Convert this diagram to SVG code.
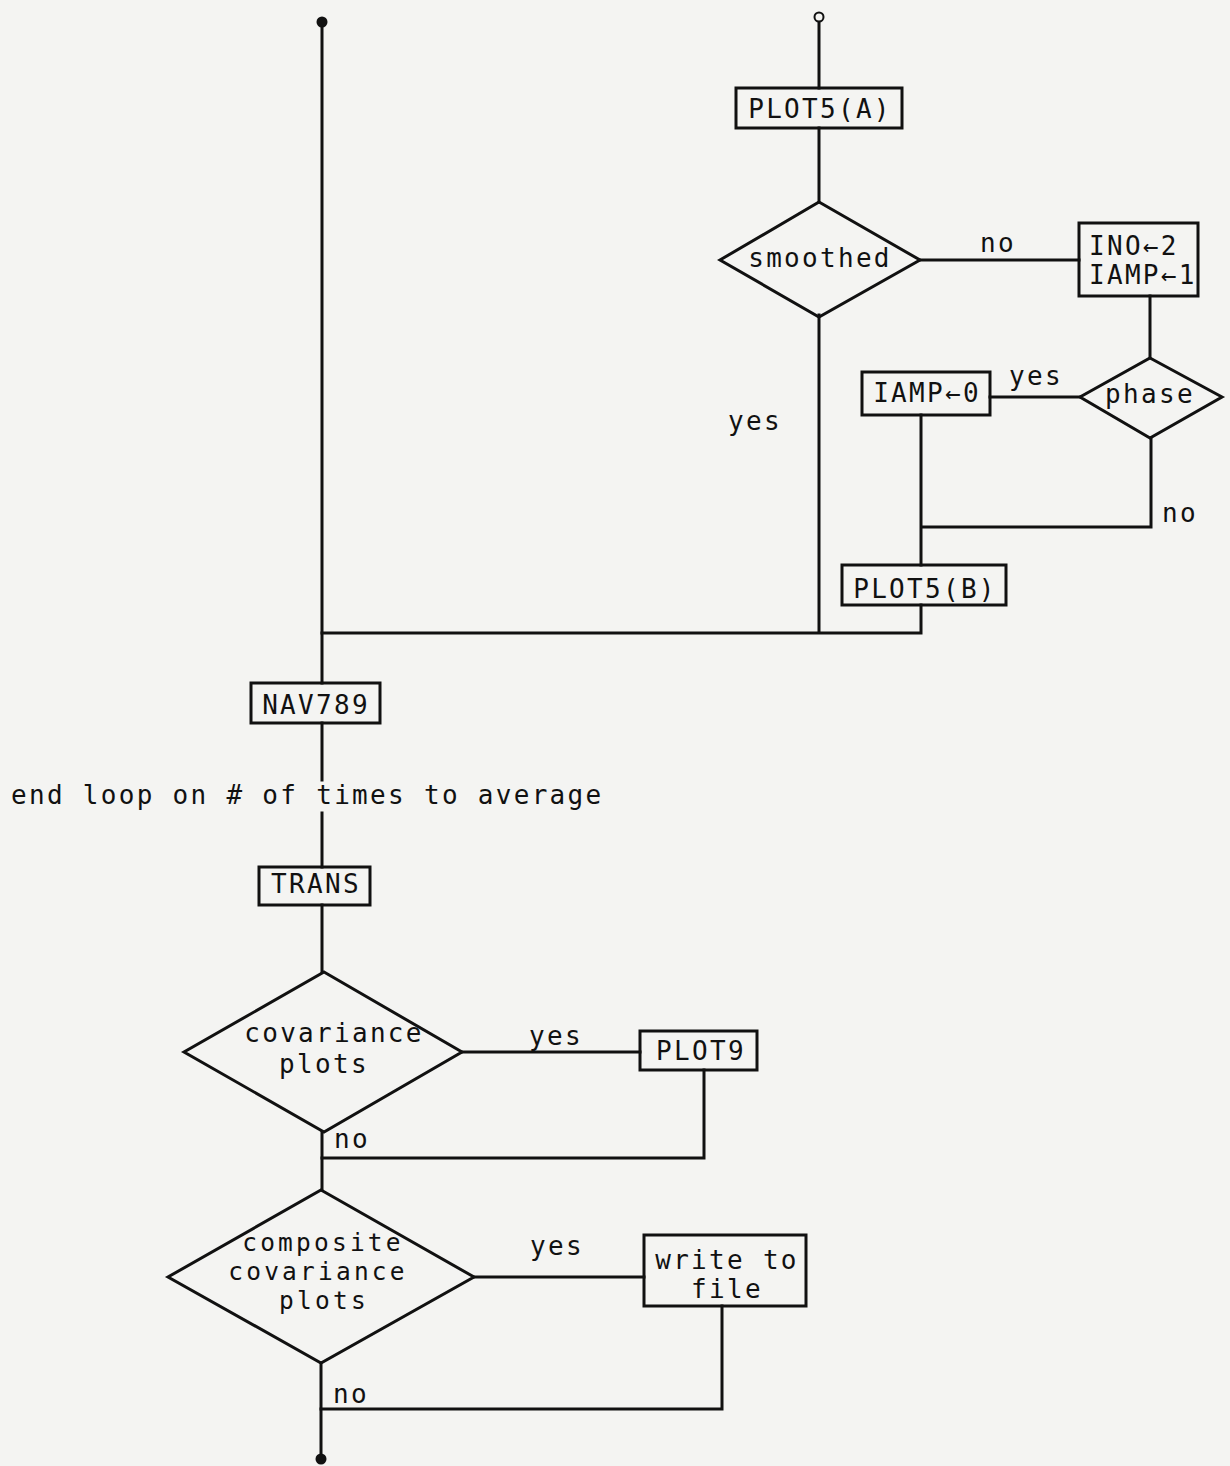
<svg xmlns="http://www.w3.org/2000/svg" width="1230" height="1466" viewBox="0 0 1230 1466">
<style>
.bg{fill:#f4f4f2}
.n{fill:none;stroke:#111;stroke-width:3}
.c{fill:none;stroke:#111;stroke-width:3;stroke-linecap:square}
text{font-family:"DejaVu Sans Mono","Liberation Mono",monospace;font-size:26px;fill:#111;letter-spacing:2.3px}
.m{text-anchor:middle}
.s{font-size:24.5px;letter-spacing:3.2px}
</style>
<rect class="bg" x="0" y="0" width="1230" height="1466"/>
<g id="connectors">
<path class="c" d="M322 22V683M322 723V780M322 813V867M322 905V972M322 1132V1190M321 1363V1458"/>
<path class="c" d="M819 22V88M819 128V202M920 260H1079M1150 296V358M1080 397H990M819 315V633M921 415V565M1151 438V527H921M921 605V633H322"/>
<path class="c" d="M462 1052H640M704 1070V1158H322M474 1277H644M722 1306V1409H321"/>
<circle cx="322" cy="22" r="5.5" fill="#111"/>
<circle cx="819" cy="17" r="4.5" fill="#f4f4f2" stroke="#111" stroke-width="2"/>
<circle cx="321" cy="1459" r="5.5" fill="#111"/>
<text class="m" x="998" y="252">no</text>
<text class="m" x="1036" y="385">yes</text>
<text class="m" x="755" y="430">yes</text>
<text x="1162" y="522">no</text>
<text x="11" y="804">end loop on # of times to average</text>
<text class="m" x="556" y="1045">yes</text>
<text x="334" y="1148">no</text>
<text class="m" x="557" y="1255">yes</text>
<text x="333" y="1403">no</text>
</g>
<g id="plot5a"><rect class="n" x="736" y="88" width="166" height="40"/><text class="m" x="820" y="118">PLOT5(A)</text></g>
<g id="smoothed"><path class="n" d="M819 202L920 260L819 317L720 260Z"/><text class="m" x="820" y="267">smoothed</text></g>
<g id="ino"><rect class="n" x="1079" y="223" width="119" height="73"/><text x="1089" y="255">INO←2</text><text x="1089" y="284">IAMP←1</text></g>
<g id="phase"><path class="n" d="M1150 358L1222 397L1150 438L1080 397Z"/><text class="m" x="1150" y="403">phase</text></g>
<g id="iamp0"><rect class="n" x="862" y="372" width="128" height="43"/><text class="m" x="927" y="402">IAMP←0</text></g>
<g id="plot5b"><rect class="n" x="842" y="565" width="164" height="40"/><text class="m" x="925" y="598">PLOT5(B)</text></g>
<g id="nav789"><rect class="n" x="251" y="683" width="129" height="40"/><text class="m" x="316" y="714">NAV789</text></g>
<g id="trans"><rect class="n" x="259" y="867" width="111" height="38"/><text class="m" x="316" y="893">TRANS</text></g>
<g id="covplots"><path class="n" d="M324 972L462 1052L324 1132L184 1052Z"/><text class="m" x="334" y="1042">covariance</text><text class="m" x="324" y="1073">plots</text></g>
<g id="plot9"><rect class="n" x="640" y="1031" width="117" height="39"/><text class="m" x="701" y="1060">PLOT9</text></g>
<g id="composite"><path class="n" d="M321 1190L474 1277L321 1363L168 1277Z"/><text class="m s" x="323" y="1251">composite</text><text class="m s" x="318" y="1280">covariance</text><text class="m s" x="324" y="1309">plots</text></g>
<g id="writefile"><rect class="n" x="644" y="1235" width="162" height="71"/><text class="m" x="727" y="1269">write to</text><text class="m" x="727" y="1298">file</text></g>
</svg>
